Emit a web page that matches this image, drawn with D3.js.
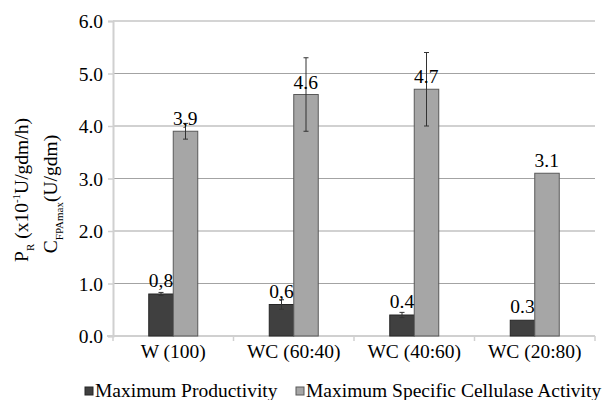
<!DOCTYPE html>
<html>
<head>
<meta charset="utf-8">
<script src="https://cdn.jsdelivr.net/npm/d3@7"></script>
<style>
  #chart text, #chart tspan { font-family: "Liberation Serif" !important; }
</style>
</head>
<body style="margin:0;background:#fff">
<svg id="chart" width="613" height="400" style="display:block"></svg>
<script>
// Substrate mixtures (wheat : cotton ratios)
const categories = ["W (100)", "WC (60:40)", "WC (40:60)", "WC (20:80)"];

// Maximum productivity (x10^-1 U/gdm/h) with standard deviation
const productivity = [0.8, 0.6, 0.4, 0.3];
const productivityErr = [0.03, 0.09, 0.05, 0];
const productivityLabels = ["0,8", "0,6", "0.4", "0.3"];

// Maximum specific cellulase activity (U/gdm) with standard deviation
const activity = [3.9, 4.6, 4.7, 3.1];
const activityErr = [0.15, 0.7, 0.7, 0];
const activityLabels = ["3,9", "4.6", "4.7", "3.1"];

const yTicks = [0, 1, 2, 3, 4, 5, 6];
const seriesNames = ["Maximum Productivity", "Maximum Specific Cellulase Activity"];

const colors = { dark: "#404040", light: "#a6a6a6", darkStroke: "#262626", lightStroke: "#595959" };
const FS = 19.5;

const svg = d3.select("#chart");
const plot = { left: 113, right: 595, top: 21, bottom: 336 };

const x = d3.scaleBand().domain(categories).range([plot.left, plot.right]).padding(0);
const y = d3.scaleLinear().domain([0, 6]).range([plot.bottom, plot.top]);
const barW = 24.5;

// Serif text helper
const txt = (sel) => sel
  .attr("font-family", "Liberation Serif")
  .attr("style", "font-family: 'Liberation Serif' !important")
  .attr("font-size", FS).attr("fill", "#000");

// Horizontal gridlines
svg.append("g").selectAll("line").data(yTicks.filter(t => t > 0)).join("line")
  .attr("x1", plot.left).attr("x2", plot.right)
  .attr("y1", d => y(d)).attr("y2", d => y(d))
  .attr("stroke", d => d === 6 ? "#d4d4d4" : "#a3a3a3")
  .attr("stroke-width", d => d === 6 ? 2 : 1);

// Y axis
const yAxis = d3.axisLeft(y).tickValues(yTicks).tickFormat(d3.format(".1f")).tickSize(5).tickPadding(5);
const gy = svg.append("g").attr("transform", `translate(${plot.left},0)`).call(yAxis);
gy.attr("font-family", "Liberation Serif").attr("font-size", FS);
gy.select(".domain").attr("stroke", "#d0d0d0").attr("stroke-width", 2);
gy.selectAll(".tick line").attr("stroke", "#d0d0d0").attr("stroke-width", 1.5);
txt(gy.selectAll(".tick text")).attr("dy", "0.34em");

// X axis with ticks between categories
const gx = svg.append("g").attr("transform", `translate(0,${plot.bottom})`);
gx.append("line").attr("x1", plot.left - 6).attr("x2", plot.right)
  .attr("stroke", "#d0d0d0").attr("stroke-width", 2);
const boundaries = categories.map(c => x(c)).concat([x(categories[categories.length - 1]) + x.bandwidth()]);
gx.selectAll(".bt").data(boundaries).join("line").attr("class", "bt")
  .attr("x1", d => d).attr("x2", d => d).attr("y1", 0).attr("y2", 5)
  .attr("stroke", "#d0d0d0").attr("stroke-width", 1.5);
txt(gx.selectAll(".cl").data(categories).join("text").attr("class", "cl"))
  .attr("x", d => x(d) + x.bandwidth() / 2).attr("y", 22)
  .attr("text-anchor", "middle")
  .text(d => d);

const center = c => x(c) + x.bandwidth() / 2;

// Bars
const bars = svg.append("g");
bars.selectAll(".pb").data(categories).join("rect").attr("class", "pb")
  .attr("x", c => center(c) - barW).attr("width", barW)
  .attr("y", (c, i) => y(productivity[i])).attr("height", (c, i) => y(0) - y(productivity[i]))
  .attr("fill", colors.dark).attr("stroke", colors.darkStroke).attr("stroke-width", 1);
bars.selectAll(".ab").data(categories).join("rect").attr("class", "ab")
  .attr("x", c => center(c)).attr("width", barW)
  .attr("y", (c, i) => y(activity[i])).attr("height", (c, i) => y(0) - y(activity[i]))
  .attr("fill", colors.light).attr("stroke", colors.lightStroke).attr("stroke-width", 1);

// Error bars
function errorBars(vals, errs, offset, cls) {
  const g = svg.append("g");
  const items = categories.map((c, i) => ({ cx: center(c) + offset, v: vals[i], e: errs[i] })).filter(d => d.e > 0);
  g.selectAll("." + cls + "v").data(items).join("line").attr("class", cls + "v")
    .attr("x1", d => d.cx).attr("x2", d => d.cx)
    .attr("y1", d => y(d.v - d.e)).attr("y2", d => y(d.v + d.e))
    .attr("stroke", "#333").attr("stroke-width", 1);
  ["hi", "lo"].forEach(s => {
    g.selectAll("." + cls + s).data(items).join("line").attr("class", cls + s)
      .attr("x1", d => d.cx - 2.5).attr("x2", d => d.cx + 2.5)
      .attr("y1", d => y(s === "hi" ? d.v + d.e : d.v - d.e))
      .attr("y2", d => y(s === "hi" ? d.v + d.e : d.v - d.e))
      .attr("stroke", "#333").attr("stroke-width", 1);
  });
}
errorBars(productivity, productivityErr, -barW / 2, "pe");
errorBars(activity, activityErr, barW / 2, "ae");

// Value labels
txt(svg.append("g").selectAll("text").data(categories).join("text"))
  .attr("x", c => center(c) - barW / 2).attr("y", (c, i) => y(productivity[i]) - 7)
  .attr("text-anchor", "middle")
  .text((c, i) => productivityLabels[i]);
txt(svg.append("g").selectAll("text").data(categories).join("text"))
  .attr("x", c => center(c) + 12).attr("y", (c, i) => y(activity[i]) - 6)
  .attr("text-anchor", "middle")
  .text((c, i) => activityLabels[i]);

// Y axis title, two rotated lines
const t1 = txt(svg.append("text")).attr("transform", "translate(28,190) rotate(-90)")
  .attr("text-anchor", "middle");
t1.append("tspan").text("P");
t1.append("tspan").attr("font-size", 11).attr("dy", 6).text("R");
t1.append("tspan").attr("dy", -6).text(" (x10");
t1.append("tspan").attr("font-size", 11).attr("dy", -8).text("-1");
t1.append("tspan").attr("dy", 8).text("U/gdm/h)");

const t2 = txt(svg.append("text")).attr("transform", "translate(57,194) rotate(-90)")
  .attr("text-anchor", "middle");
t2.append("tspan").text("C");
t2.append("tspan").attr("font-size", 11).attr("dy", 6).text("FPAmax");
t2.append("tspan").attr("dy", -6).text("(U/gdm)");

// Legend
const legend = svg.append("g");
const legendItems = [
  { name: seriesNames[0], fill: colors.dark, stroke: colors.darkStroke, x: 85 },
  { name: seriesNames[1], fill: colors.light, stroke: colors.lightStroke, x: 296 }
];
legendItems.forEach(d => {
  legend.append("rect").attr("x", d.x).attr("y", 387).attr("width", 8).attr("height", 8)
    .attr("fill", d.fill).attr("stroke", d.stroke).attr("stroke-width", 1);
  txt(legend.append("text")).attr("x", d.x + 10).attr("y", 397)
    .text(d.name);
});
</script>
</body>
</html>
